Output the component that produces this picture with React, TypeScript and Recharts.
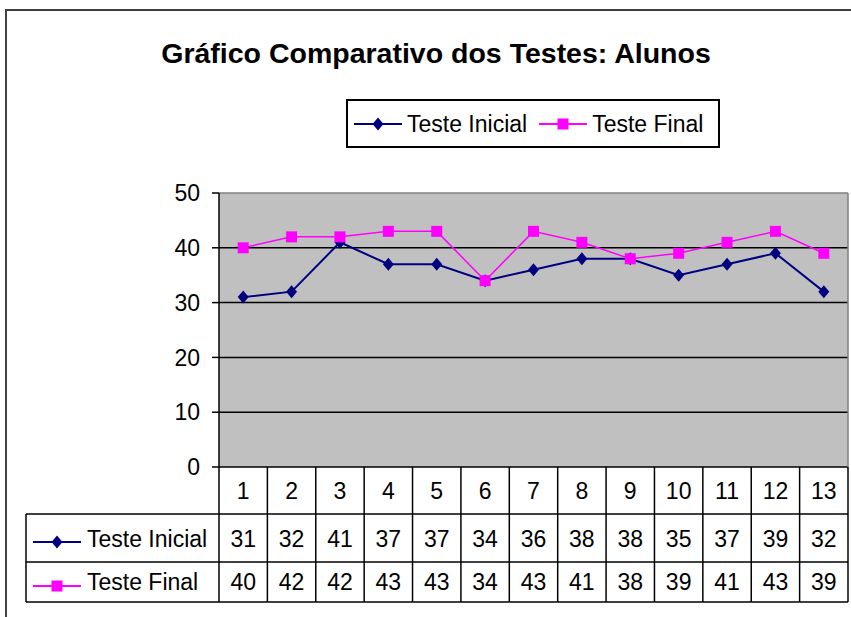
import React from 'react';
import { LineChart, Line, XAxis, YAxis, CartesianGrid, ReferenceLine, Legend } from 'recharts';

// ---- data ----
const alunos = ['1', '2', '3', '4', '5', '6', '7', '8', '9', '10', '11', '12', '13'];
const testeInicial = [31, 32, 41, 37, 37, 34, 36, 38, 38, 35, 37, 39, 32];
const testeFinal = [40, 42, 42, 43, 43, 34, 43, 41, 38, 39, 41, 43, 39];
const yTicks = [0, 10, 20, 30, 40, 50];
const gridValues = [10, 20, 30, 40];
const chartTitle = 'Gráfico Comparativo dos Testes: Alunos';
const nameInicial = 'Teste Inicial';
const nameFinal = 'Teste Final';
const seriesOrder = [nameInicial, nameFinal];

const data = alunos.map((name, i) => ({ name, inicial: testeInicial[i], final: testeFinal[i] }));

// ---- layout / style ----
const W = 851;
const H = 617;
const PLOT_LEFT = 219;
const PLOT_TOP = 193;
const PLOT_RIGHT = 848;
const PLOT_BOTTOM = 467;
const RIGHT_AXIS_W = 2;
const COL_W = (PLOT_RIGHT - PLOT_LEFT) / alunos.length;
const FONT = "'Liberation Sans', Arial, sans-serif";
const FS = 23;
const NAVY = '#000080';
const MAGENTA = '#FF00FF';

const Diamond = ({ cx, cy }: { cx: number; cy: number }) => (
  <path d={`M${cx},${cy - 6.5} L${cx + 5.5},${cy} L${cx},${cy + 6.5} L${cx - 5.5},${cy} Z`} fill={NAVY} />
);
const Square = ({ cx, cy }: { cx: number; cy: number }) => (
  <rect x={cx - 5.5} y={cy - 5.5} width={11} height={11} fill={MAGENTA} />
);

const renderDiamond = (p: any) => <Diamond key={`d-${p.index}`} cx={p.cx} cy={p.cy} />;
const renderSquare = (p: any) => <Square key={`s-${p.index}`} cx={p.cx} cy={p.cy} />;

const KeyIcon = ({ kind, width = 48 }: { kind: 'inicial' | 'final'; width?: number }) => {
  const color = kind === 'inicial' ? NAVY : MAGENTA;
  const cx = width / 2;
  return (
    <svg width={width} height={20} style={{ display: 'block' }}>
      <line x1={0} x2={width} y1={10} y2={10} stroke={color} strokeWidth={2} />
      {kind === 'inicial' ? <Diamond cx={cx} cy={10} /> : <Square cx={cx} cy={10} />}
    </svg>
  );
};

const LegendContent = (props: any) => {
  const payload = [...(props.payload || [])].sort(
    (a: any, b: any) => seriesOrder.indexOf(a.value) - seriesOrder.indexOf(b.value)
  );
  return (
    <div
      style={{
        boxSizing: 'border-box',
        width: 374,
        height: 49,
        border: '2px solid #000',
        background: '#fff',
        display: 'flex',
        alignItems: 'center',
        paddingLeft: 6,
        fontFamily: FONT,
        fontSize: FS,
        color: '#000',
      }}
    >
      {payload.map((entry: any, idx: number) => (
        <div key={entry.value} style={{ display: 'flex', alignItems: 'center', marginLeft: idx === 0 ? 0 : 12 }}>
          <KeyIcon kind={entry.dataKey === 'inicial' ? 'inicial' : 'final'} />
          <span style={{ marginLeft: 5, lineHeight: '26px' }}>{entry.value}</span>
        </div>
      ))}
    </div>
  );
};

const TableTick = (props: any) => {
  const { x, y, payload } = props;
  const i: number = props.index ?? payload.index ?? alunos.indexOf(payload.value);
  const half = COL_W / 2;
  const left = x - half;
  const right = x + half;
  const r1 = y + 47;
  const r2 = y + 95;
  const r3 = y + 135;
  const ls = { stroke: '#000', strokeWidth: 1.5 };
  const ts = { fontFamily: FONT, fontSize: FS, fill: '#000' };
  const hdrLeft = 26;
  return (
    <g>
      <line x1={left} x2={left} y1={y} y2={r3} {...ls} />
      {i === alunos.length - 1 && <line x1={right} x2={right} y1={y} y2={r3} {...ls} />}
      <line x1={left} x2={right} y1={r1} y2={r1} {...ls} />
      <line x1={left} x2={right} y1={r2} y2={r2} {...ls} />
      <line x1={left} x2={right} y1={r3} y2={r3} {...ls} />
      <text x={x} y={y + 24} dy="0.35em" textAnchor="middle" {...ts}>{payload.value}</text>
      <text x={x} y={y + 72} dy="0.35em" textAnchor="middle" {...ts}>{testeInicial[i]}</text>
      <text x={x} y={y + 115} dy="0.35em" textAnchor="middle" {...ts}>{testeFinal[i]}</text>
      {i === 0 && (
        <g>
          <line x1={hdrLeft} x2={left} y1={r1} y2={r1} {...ls} />
          <line x1={hdrLeft} x2={left} y1={r2} y2={r2} {...ls} />
          <line x1={hdrLeft} x2={left} y1={r3} y2={r3} {...ls} />
          <line x1={hdrLeft} x2={hdrLeft} y1={r1} y2={r3} {...ls} />
          <line x1={33} x2={81} y1={y + 75} y2={y + 75} stroke={NAVY} strokeWidth={2} />
          <Diamond cx={57} cy={y + 75} />
          <text x={87} y={y + 72} dy="0.35em" textAnchor="start" {...ts}>{nameInicial}</text>
          <line x1={33} x2={81} y1={y + 119} y2={y + 119} stroke={MAGENTA} strokeWidth={2} />
          <Square cx={57} cy={y + 119} />
          <text x={87} y={y + 115} dy="0.35em" textAnchor="start" {...ts}>{nameFinal}</text>
        </g>
      )}
    </g>
  );
};

export default function App() {
  return (
    <div
      style={{
        position: 'absolute',
        left: 0,
        top: 0,
        width: W,
        height: H,
        overflow: 'hidden',
        background: '#fff',
        fontFamily: FONT,
      }}
    >
      <div
        style={{
          position: 'absolute',
          left: 5,
          top: 9,
          width: 900,
          height: 700,
          borderLeft: '2px solid #404040',
          borderTop: '2px solid #404040',
        }}
      />
      <div
        style={{
          position: 'absolute',
          left: 0,
          top: 37,
          width: 872,
          textAlign: 'center',
          fontWeight: 'bold',
          fontSize: 28.5,
          lineHeight: '32px',
          color: '#000',
        }}
      >
        {chartTitle}
      </div>
      <div style={{ position: 'absolute', left: 0, top: 0 }}>
        <LineChart
          width={W}
          height={H}
          data={data}
          margin={{ top: PLOT_TOP, right: W - PLOT_RIGHT - RIGHT_AXIS_W, bottom: 0, left: 0 }}
        >
          <CartesianGrid horizontal={false} vertical={false} fill="#C0C0C0" fillOpacity={1} />
          {gridValues.map((v) => (
            <ReferenceLine key={v} y={v} stroke="#000" strokeWidth={1.5} />
          ))}
          <ReferenceLine y={50} stroke="#808080" strokeWidth={1.5} />
          <ReferenceLine y={0} stroke="#000" strokeWidth={1.5} />
          <XAxis
            dataKey="name"
            height={H - PLOT_BOTTOM}
            axisLine={false}
            tickLine={false}
            tickSize={0}
            tickMargin={0}
            interval={0}
            padding={{ left: COL_W / 2, right: COL_W / 2 }}
            tick={<TableTick />}
          />
          <YAxis
            width={PLOT_LEFT}
            domain={[0, 50]}
            ticks={yTicks}
            interval={0}
            axisLine={{ stroke: '#000', strokeWidth: 1.5 }}
            tickLine={{ stroke: '#000', strokeWidth: 1.5 }}
            tickSize={7}
            tickMargin={12}
            tick={{ fontSize: FS, fill: '#000', fontFamily: FONT }}
          />
          <YAxis
            yAxisId="frame"
            orientation="right"
            width={RIGHT_AXIS_W}
            domain={[0, 50]}
            tick={false}
            tickLine={false}
            axisLine={{ stroke: '#808080', strokeWidth: 1.5 }}
          />
          <Legend
            layout="horizontal"
            verticalAlign="middle"
            align="center"
            itemSorter={null as any}
            content={<LegendContent />}
            wrapperStyle={{ position: 'absolute', left: 346, top: 99, width: 374, height: 49 }}
          />
          <Line
            type="linear"
            dataKey="inicial"
            name={nameInicial}
            stroke={NAVY}
            strokeWidth={2}
            dot={renderDiamond}
            activeDot={false}
            isAnimationActive={false}
            legendType="diamond"
          />
          <Line
            type="linear"
            dataKey="final"
            name={nameFinal}
            stroke={MAGENTA}
            strokeWidth={1.5}
            dot={renderSquare}
            activeDot={false}
            isAnimationActive={false}
            legendType="square"
          />
        </LineChart>
      </div>
    </div>
  );
}
